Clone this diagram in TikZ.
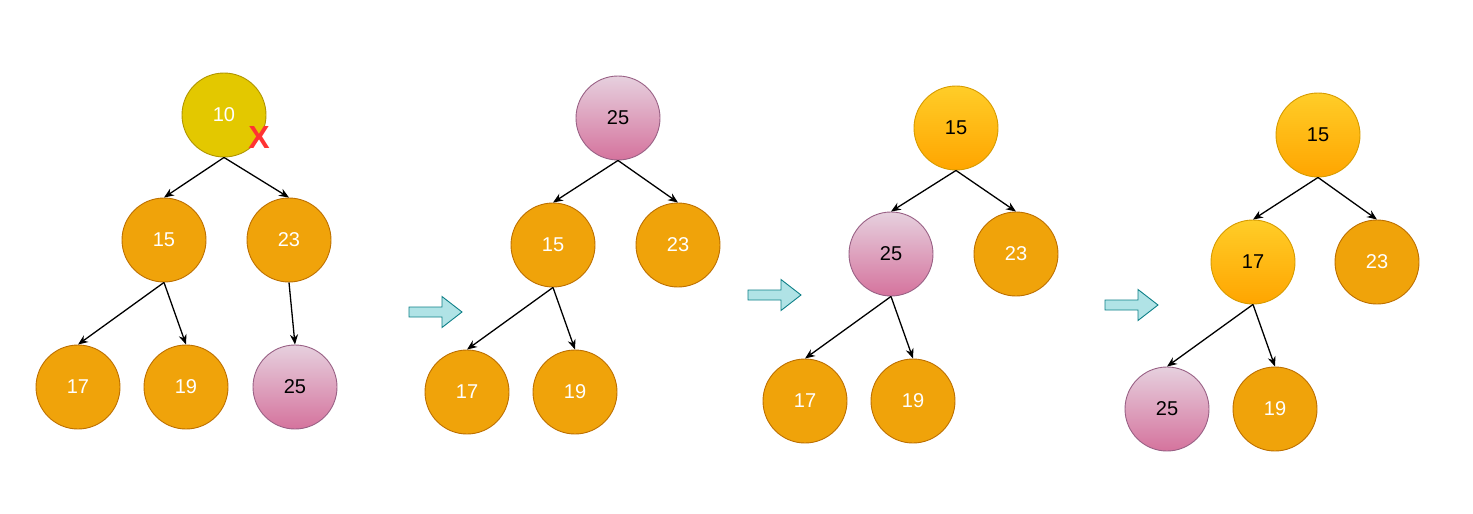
\documentclass[tikz,border=0pt]{standalone}
\usepackage{fontspec}
\setmainfont{Liberation Sans}
\usetikzlibrary{arrows.meta}
\definecolor{orfill}{HTML}{F0A30A}
\definecolor{ordraw}{HTML}{BD7000}
\definecolor{yefill}{HTML}{E3C800}
\definecolor{yedraw}{HTML}{B09500}
\definecolor{pktop}{HTML}{E6D0DE}
\definecolor{pkbot}{HTML}{D5739D}
\definecolor{pkdraw}{HTML}{996185}
\definecolor{gotop}{HTML}{FFCD28}
\definecolor{gobot}{HTML}{FFA500}
\definecolor{godraw}{HTML}{D79B00}
\definecolor{arfill}{HTML}{B0E3E6}
\definecolor{ardraw}{HTML}{0E8088}
\definecolor{xred}{HTML}{FF3333}
\tikzset{
  base/.style={circle, minimum size=84pt, inner sep=0pt, line width=0.9pt, font=\fontsize{20}{24}\selectfont},
  orn/.style={base, fill=orfill, draw=ordraw, text=white},
  yen/.style={base, fill=yefill, draw=yedraw, text=white},
  pkn/.style={base, top color=pktop, bottom color=pkbot, draw=pkdraw, text=black},
  gon/.style={base, top color=gotop, bottom color=gobot, draw=godraw, text=black},
  edge/.style={-{Stealth[length=10pt,width=8pt]}, line width=1.3pt, black},
  blockarrow/.style={fill=arfill, draw=ardraw, line width=0.9pt, line join=miter}
}
\newcommand{\blockarr}[2]{%
  \draw[blockarrow] (#1,#2-5) -- (#1+33,#2-5) -- (#1+33,#2-15.5) -- (#1+53,#2) -- (#1+33,#2+15.5) -- (#1+33,#2+5) -- (#1,#2+5) -- cycle;}
\begin{document}
\begin{tikzpicture}[x=1pt,y=-1pt]
\useasboundingbox (0,0) rectangle (1473,514);
% tree 1
\node[yen] (a1) at (224,115) {10};
\node[orn] (a2) at (164,240) {15};
\node[orn] (a3) at (289,240) {23};
\node[orn] (a4) at (78,387) {17};
\node[orn] (a5) at (186,387) {19};
\node[pkn] (a6) at (295,387) {25};
\node[text=xred, font=\fontsize{32}{36}\selectfont\bfseries, inner sep=0pt] (x1) at (259,137) {X};
\draw[edge] (a1.south) -- (a2.north);
\draw[edge] (a1.south) -- (a3.north);
\draw[edge] (a2.south) -- (a4.north);
\draw[edge] (a2.south) -- (a5.north);
\draw[edge] (a3.south) -- (a6.north);
% tree 2
\node[pkn] (b1) at (618,118) {25};
\node[orn] (b2) at (553,245) {15};
\node[orn] (b3) at (678,245) {23};
\node[orn] (b4) at (467,392) {17};
\node[orn] (b5) at (575,392) {19};
\draw[edge] (b1.south) -- (b2.north);
\draw[edge] (b1.south) -- (b3.north);
\draw[edge] (b2.south) -- (b4.north);
\draw[edge] (b2.south) -- (b5.north);
% tree 3
\node[gon] (c1) at (956,128) {15};
\node[pkn] (c2) at (891,254) {25};
\node[orn] (c3) at (1016,254) {23};
\node[orn] (c4) at (805,401) {17};
\node[orn] (c5) at (913,401) {19};
\draw[edge] (c1.south) -- (c2.north);
\draw[edge] (c1.south) -- (c3.north);
\draw[edge] (c2.south) -- (c4.north);
\draw[edge] (c2.south) -- (c5.north);
% tree 4
\node[gon] (d1) at (1318,135) {15};
\node[gon] (d2) at (1253,262) {17};
\node[orn] (d3) at (1377,262) {23};
\node[pkn] (d4) at (1167,409) {25};
\node[orn] (d5) at (1275,409) {19};
\draw[edge] (d1.south) -- (d2.north);
\draw[edge] (d1.south) -- (d3.north);
\draw[edge] (d2.south) -- (d4.north);
\draw[edge] (d2.south) -- (d5.north);
% block arrows
\blockarr{409}{312}
\blockarr{748}{295}
\blockarr{1105}{305}
\end{tikzpicture}
\end{document}
